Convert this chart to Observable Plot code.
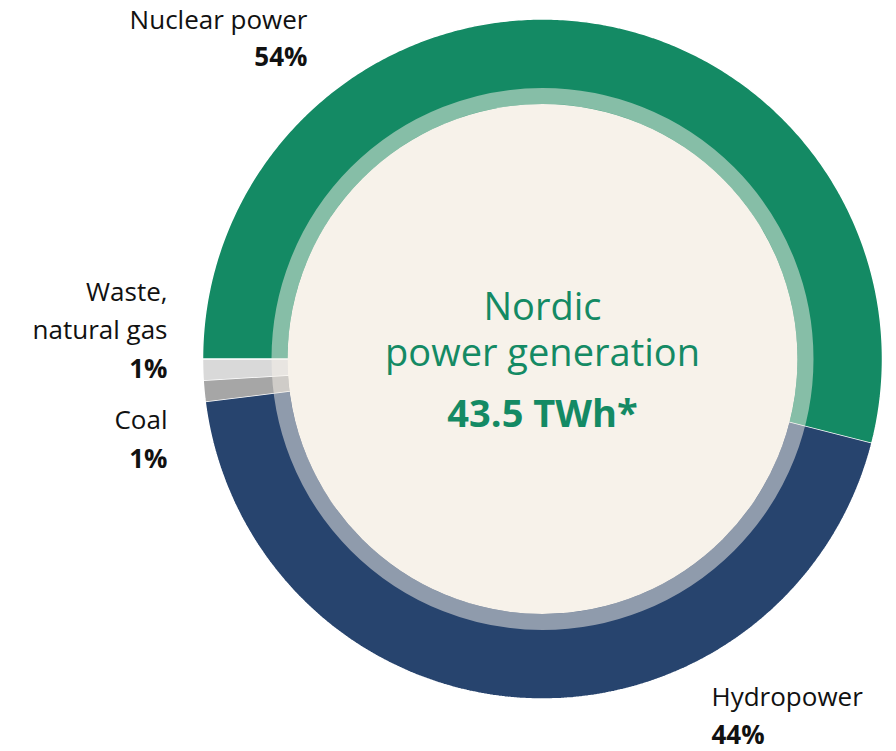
<!DOCTYPE html>
<html>
<head>
<meta charset="utf-8">
<script src="https://cdn.jsdelivr.net/npm/d3@7"></script>
<script src="https://cdn.jsdelivr.net/npm/@observablehq/plot@0.6"></script>
<style>
  html, body { margin: 0; padding: 0; background: #fff; }
  #chart svg { display: block; }
</style>
</head>
<body>
<div id="chart"></div>
<script>
// ---- data ----
const sources = ["Nuclear power", "Hydropower", "Coal", "Waste, natural gas"];
const shares = [54, 44, 1, 1];
const shareLabels = ["54%", "44%", "1%", "1%"];
const colors = ["#148a64", "#27446e", "#a6a6a6", "#d9d9d9"];
const centerTitle = ["Nordic", "power generation"];
const centerValue = "43.5 TWh*";

// ---- layout ----
const W = 896, H = 751;
const cx = 542, cy = 358.5;
const R = 340, rBandIn = 271, rCream = 255;
const font = "'Open Sans', sans-serif";
const FS = 26, CFS = 38;

// slices from pie layout (start at 9 o'clock, clockwise)
const total = d3.sum(shares);
let acc = 0;
const slices = sources.map((s, i) => {
  const a0 = 270 + acc / total * 360;
  acc += shares[i];
  const a1 = 270 + acc / total * 360;
  return {name: s, a0, a1};
});
const rad = d => d * Math.PI / 180;
const pts = [];
for (const sl of slices) {
  const n = Math.max(2, Math.ceil((sl.a1 - sl.a0) / 0.5));
  for (let k = 0; k <= n; k++) {
    const a = rad(sl.a0 + (sl.a1 - sl.a0) * k / n);
    pts.push({name: sl.name, x: R * Math.sin(a), y: R * Math.cos(a)});
  }
  for (let k = n; k >= 0; k--) {
    const a = rad(sl.a0 + (sl.a1 - sl.a0) * k / n);
    pts.push({name: sl.name, x: (rCream - 2) * Math.sin(a), y: (rCream - 2) * Math.cos(a)});
  }
}

// label layout (pixel baselines)
const off = -0.5;
const labels = [
  {lines: [sources[0]], pct: shareLabels[0], x: 307, base: [28, 65], anchor: "end"},
  {lines: [sources[1]], pct: shareLabels[1], x: 711, base: [705, 743], anchor: "start"},
  {lines: ["Waste,", "natural gas"], pct: shareLabels[3], x: 167, base: [300, 338, 377], anchor: "end"},
  {lines: [sources[2]], pct: shareLabels[2], x: 167, base: [428, 467], anchor: "end"}
];
const textRows = [];
for (const l of labels) {
  l.lines.forEach((t, j) => textRows.push({t, x: l.x - cx, y: cy - (l.base[j] - off), anchor: l.anchor, bold: false}));
  textRows.push({t: l.pct, x: l.x - cx, y: cy - (l.base[l.lines.length] - off), anchor: l.anchor, bold: true});
}
const cOff = 1;
const centerBase = [320, 366, 427];

const plot = Plot.plot({
  width: W, height: H,
  margin: 0,
  x: {domain: [-cx, W - cx], axis: null},
  y: {domain: [cy - H, cy], axis: null},
  color: {domain: sources, range: colors},
  style: {background: "#fff", fontFamily: font},
  marks: [
    Plot.line(pts, {x: "x", y: "y", z: "name", fill: "name", stroke: "#fff", strokeWidth: 1.5, strokeLinejoin: "miter", curve: "linear"}),
    Plot.dot([0], {x: () => 0, y: () => 0, r: (rBandIn + rCream) / 2, fill: "none", stroke: "#f7f2ea", strokeOpacity: 0.5, strokeWidth: rBandIn - rCream}),
    Plot.dot([0], {x: () => 0, y: () => 0, r: rCream, fill: "#f7f2ea", stroke: "none"}),
    Plot.text(textRows.filter(d => !d.bold && d.anchor === "end"), {x: "x", y: "y", text: "t", textAnchor: "end", lineAnchor: "bottom", fontSize: FS, fill: "#111"}),
    Plot.text(textRows.filter(d => d.bold && d.anchor === "end"), {x: "x", y: "y", text: "t", textAnchor: "end", lineAnchor: "bottom", fontSize: FS, fontWeight: "bold", fill: "#111"}),
    Plot.text(textRows.filter(d => !d.bold && d.anchor === "start"), {x: "x", y: "y", text: "t", textAnchor: "start", lineAnchor: "bottom", fontSize: FS, fill: "#111"}),
    Plot.text(textRows.filter(d => d.bold && d.anchor === "start"), {x: "x", y: "y", text: "t", textAnchor: "start", lineAnchor: "bottom", fontSize: FS, fontWeight: "bold", fill: "#111"}),
    Plot.text(centerTitle, {x: () => 0, y: (d, i) => cy - (centerBase[i] - cOff), text: d => d, textAnchor: "middle", lineAnchor: "bottom", fontSize: CFS, fill: "#148a64"}),
    Plot.text([centerValue], {x: () => 0, y: () => cy - (centerBase[2] - cOff), text: d => d, textAnchor: "middle", lineAnchor: "bottom", fontSize: CFS, fontWeight: "bold", fill: "#148a64"})
  ]
});
document.getElementById("chart").appendChild(plot);
</script>
</body>
</html>
